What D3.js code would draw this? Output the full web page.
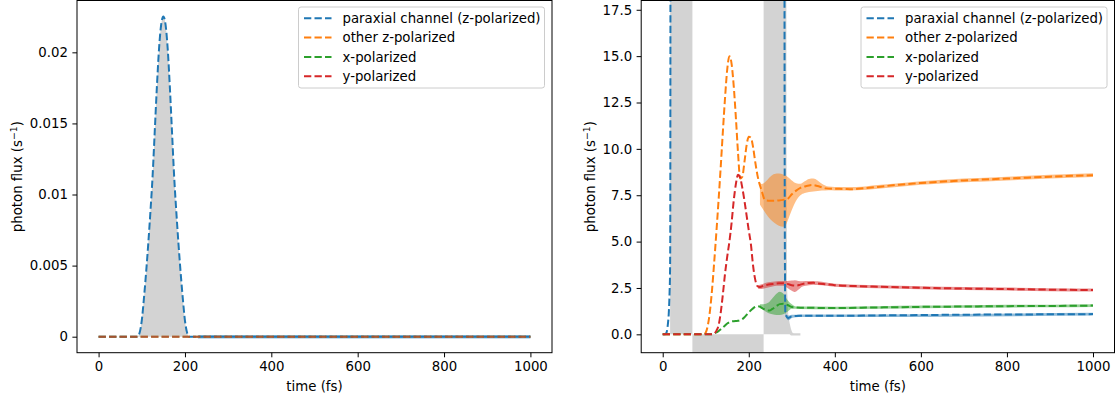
<!DOCTYPE html>
<html>
<head>
<meta charset="utf-8">
<script src="https://cdn.jsdelivr.net/npm/d3@7"></script>
<style>
  body { margin: 0; background: #fff; }
  svg { display: block; }
  text { font-family: "DejaVu Sans", sans-serif; fill: #000; }
</style>
</head>
<body>
<svg id="chart" width="1115" height="400"></svg>
<script>
// ---------- series meta ----------
const seriesNames = ["paraxial channel (z-polarized)", "other z-polarized", "x-polarized", "y-polarized"];
const seriesColors = ["#1f77b4", "#ff7f0e", "#2ca02c", "#d62728"];

// ---------- ticks ----------
const xTicks = [0, 200, 400, 600, 800, 1000];
const leftYTicks = [0, 0.005, 0.01, 0.015, 0.02];
const leftYTickLabels = ["0", "0.005", "0.01", "0.015", "0.02"];
const rightYTicks = [0, 2.5, 5, 7.5, 10, 12.5, 15, 17.5];
const rightYTickLabels = ["0.0", "2.5", "5.0", "7.5", "10.0", "12.5", "15.0", "17.5"];

// ---------- left panel: incident-channel flux ----------
const leftT = [0, 85, 90, 95, 100, 105, 110, 115, 120, 125, 130, 135, 140, 145, 150,
               155, 160, 165, 170, 175, 180, 185, 190, 195, 200, 205, 210, 215, 1000];
const leftParaxial = [0, 0, 0, 0.00027, 0.00113, 0.0027, 0.0045, 0.00653, 0.00878, 0.01126,
                      0.01441, 0.01757, 0.02027, 0.02196, 0.02252, 0.02196, 0.02027, 0.01757,
                      0.01441, 0.01126, 0.00878, 0.00653, 0.0045, 0.0027, 0.00113, 0.00027, 0, 0, 0];
const leftZeroT = [0, 1000];
const leftOtherZ = [0, 0];
const leftX = [0, 0];
const leftY = [0, 0];
const leftParaxBandT = [230, 1000];
const leftParaxBandLo = [-0.00012, -0.00012];
const leftParaxBandHi = [0.00012, 0.00012];

// ---------- right panel: scattered-channel flux ----------
const refT  = [0, 17.2, 17.4, 69, 69.01, 234.5, 234.51, 287, 287.5, 289, 292, 295, 298, 301, 304, 320];
const refLo = [0, 0, 0, 0, -5, -5, 0, 0, 0, 0, 0, 0, -0.06, -0.06, -0.06, -0.06];
const refHi = [0, 0, 1000, 1000, 0, 0, 1000, 1000, 12, 2.5, 1.0, 0.6, 0.3, 0.1, 0.06, 0.06];

const paraxT = [0, 5, 8, 10, 12, 14, 15, 16, 17, 17.5, 18, 19, 30, 150, 270, 282, 283, 284, 285,
                288, 292, 296, 300, 310, 320, 350, 400, 500, 600, 700, 800, 900, 1000];
const paraxV = [0, 0, 0.05, 0.2, 0.55, 1.1, 1.6, 2.3, 3.3, 5, 20, 100, 1000, 1000, 1000, 100, 20, 4, 1.2,
                0.95, 0.88, 0.93, 0.97, 0.99, 1.0, 1.0, 1.0, 1.02, 1.04, 1.06, 1.07, 1.08, 1.09];
const paraxBandT  = [285, 288, 292, 296, 300, 310, 320, 400, 1000];
const paraxBandLo = [1.15, 0.85, 0.76, 0.8, 0.88, 0.92, 0.93, 0.93, 1.02];
const paraxBandHi = [1.3, 1.05, 1.02, 1.03, 1.05, 1.06, 1.07, 1.07, 1.16];

const otherZT = [0, 50, 95, 100, 105, 110, 115, 120, 125, 130, 135, 140, 145, 150, 155, 160, 165, 170,
                 175, 180, 185, 190, 195, 200, 205, 210, 215, 220, 225, 230, 235, 240, 250, 260, 270,
                 280, 290, 300, 310, 320, 330, 340, 350, 360, 370, 380, 400, 420, 440, 460, 500, 550,
                 600, 700, 800, 900, 1000];
const otherZV = [0, 0, 0, 0.1, 0.5, 1.3, 2.5, 4.0, 5.6, 7.3, 9.1, 11.0, 12.8, 14.3, 15.0, 14.6, 13.4, 11.7,
                 9.8, 8.4, 8.5, 9.3, 10.2, 10.65, 10.6, 10.1, 9.3, 8.6, 8.1, 7.75, 7.35, 7.22, 7.2, 7.2, 7.22,
                 7.25, 7.3, 7.55, 7.75, 7.9, 7.97, 8.03, 8.05, 8.0, 7.93, 7.87, 7.85, 7.84, 7.82, 7.86, 7.95, 8.07,
                 8.16, 8.3, 8.4, 8.5, 8.58];
const otherZBandT  = [226, 230, 240, 250, 260, 270, 280, 285, 290, 300, 310, 320, 330, 340, 350, 360,
                      370, 385, 400, 450, 500, 600, 700, 800, 900, 1000];
const otherZBandLo = [7.0, 6.85, 6.5, 6.2, 6.0, 5.85, 5.8, 5.85, 6.1, 6.7, 7.2, 7.5, 7.62, 7.68, 7.7, 7.73,
                      7.75, 7.77, 7.76, 7.77, 7.85, 8.06, 8.2, 8.3, 8.4, 8.48];
const otherZBandHi = [8.2, 8.1, 8.25, 8.5, 8.65, 8.67, 8.62, 8.58, 8.5, 8.3, 8.15, 8.12, 8.25, 8.38, 8.4, 8.3,
                      8.12, 7.97, 7.95, 7.95, 8.05, 8.26, 8.4, 8.5, 8.6, 8.68];

const xPolT = [0, 110, 115, 120, 125, 130, 135, 140, 145, 150, 155, 160, 165, 170, 175, 180, 185, 190,
               195, 200, 205, 210, 215, 220, 225, 230, 240, 248, 255, 265, 272, 280, 290, 300, 310, 320,
               400, 500, 600, 700, 800, 900, 1000];
const xPolV = [0, 0, 0.01, 0.05, 0.1, 0.18, 0.28, 0.38, 0.48, 0.58, 0.66, 0.7, 0.71, 0.72, 0.73, 0.76, 0.82, 0.92,
               1.05, 1.18, 1.3, 1.4, 1.48, 1.52, 1.5, 1.43, 1.32, 1.28, 1.37, 1.54, 1.63, 1.65, 1.58, 1.47, 1.45, 1.44,
               1.42, 1.45, 1.48, 1.5, 1.52, 1.53, 1.55];
const xPolBandT  = [226, 235, 245, 255, 265, 272, 280, 290, 300, 310, 320, 400, 500, 600, 700, 800, 900, 1000];
const xPolBandLo = [1.4, 1.3, 1.15, 1.08, 1.04, 1.04, 1.08, 1.22, 1.38, 1.38, 1.37, 1.35, 1.38, 1.41, 1.43, 1.45, 1.46, 1.48];
const xPolBandHi = [1.62, 1.62, 1.7, 1.95, 2.2, 2.3, 2.2, 1.85, 1.62, 1.5, 1.5, 1.49, 1.52, 1.55, 1.57, 1.59, 1.6, 1.62];

const yPolT = [0, 115, 120, 125, 130, 135, 140, 145, 150, 155, 160, 165, 170, 175, 180, 185, 190, 195, 200,
               205, 210, 215, 220, 225, 230, 240, 250, 260, 270, 280, 290, 300, 310, 320, 330, 340, 350, 360,
               380, 400, 450, 500, 600, 700, 800, 900, 1000];
const yPolV = [0, 0, 0.05, 0.2, 0.5, 1.2, 2.2, 3.3, 4.2, 5.0, 6.0, 7.2, 8.1, 8.6, 8.45, 7.9, 7.2, 6.4, 5.6,
               4.85, 3.7, 2.95, 2.6, 2.55, 2.58, 2.65, 2.7, 2.72, 2.75, 2.76, 2.72, 2.65, 2.63, 2.68, 2.74, 2.77, 2.78, 2.75,
               2.7, 2.65, 2.6, 2.57, 2.51, 2.47, 2.44, 2.41, 2.39];
const yPolBandT  = [222, 230, 240, 250, 260, 270, 280, 290, 300, 307, 315, 325, 340, 350, 360, 380, 400,
                    500, 600, 700, 800, 900, 1000];
const yPolBandLo = [2.45, 2.45, 2.5, 2.55, 2.6, 2.62, 2.62, 2.5, 2.35, 2.28, 2.4, 2.58, 2.65, 2.68, 2.66, 2.62, 2.57,
                    2.49, 2.43, 2.39, 2.36, 2.33, 2.31];
const yPolBandHi = [2.65, 2.7, 2.78, 2.82, 2.85, 2.87, 2.88, 2.88, 2.9, 2.92, 2.88, 2.86, 2.87, 2.88, 2.86, 2.79, 2.73,
                    2.65, 2.59, 2.55, 2.52, 2.49, 2.47];

// ---------- helpers ----------
const zip = (a, b) => a.map((v, i) => [v, b[i]]);
const zip3 = (a, b, c) => a.map((v, i) => [v, b[i], c[i]]);

const svg = d3.select("#chart");
const FONT = 13.3;
const DASH = "7.3,3.2";

function drawPanel(cfg) {
  const g = svg.append("g");
  const x = d3.scaleLinear().domain([-50, 1050]).range([cfg.left, cfg.right]);
  const y = d3.scaleLinear().domain(cfg.yDomain).range([cfg.bottom, cfg.top]);

  const clipId = "clip-" + cfg.id;
  svg.append("defs").append("clipPath").attr("id", clipId)
    .append("rect").attr("x", cfg.left).attr("y", cfg.top)
    .attr("width", cfg.right - cfg.left).attr("height", cfg.bottom - cfg.top);

  const plot = g.append("g").attr("clip-path", `url(#${clipId})`);

  // reference pulse envelope
  const refArea = d3.area().x(d => x(d[0])).y0(d => y(d[1])).y1(d => y(d[2])).curve(cfg.refCurve);
  plot.append("path").datum(cfg.ref).attr("d", refArea).attr("fill", "#d3d3d3");

  const band = d3.area().x(d => x(d[0])).y0(d => y(d[1])).y1(d => y(d[2])).curve(d3.curveMonotoneX);
  const line = d3.line().x(d => x(d[0])).y(d => y(d[1])).curve(d3.curveMonotoneX);

  cfg.series.forEach((s, i) => {
    if (s.band) {
      plot.append("path").datum(s.band).attr("d", band)
        .attr("fill", seriesColors[i]).attr("fill-opacity", 0.5);
    }
  });
  cfg.series.forEach((s, i) => {
    plot.append("path").datum(s.line).attr("d", line)
      .attr("fill", "none").attr("stroke", seriesColors[i])
      .attr("stroke-width", 2).attr("stroke-dasharray", DASH)
      .attr("stroke-opacity", i === 0 ? 1 : cfg.lineOpacity);
  });

  // axes
  const xAxis = d3.axisBottom(x).tickValues(xTicks).tickSize(4.6).tickPadding(4.5).tickFormat(d3.format("d"));
  const gx = g.append("g").attr("transform", `translate(0,${cfg.bottom})`).call(xAxis);
  const yAxis = d3.axisLeft(y).tickValues(cfg.yTicks).tickSize(4.6).tickPadding(4.5)
    .tickFormat((d, i) => cfg.yTickLabels[i]);
  const gy = g.append("g").attr("transform", `translate(${cfg.left},0)`).call(yAxis);
  [gx, gy].forEach(a => {
    a.select(".domain").remove();
    a.selectAll("line").attr("stroke", "#000").attr("stroke-width", 1);
    a.selectAll("text").attr("font-size", FONT).attr("font-family", "DejaVu Sans, sans-serif").attr("fill", "#000");
  });

  // frame
  g.append("rect").attr("x", cfg.left).attr("y", cfg.top)
    .attr("width", cfg.right - cfg.left).attr("height", cfg.bottom - cfg.top)
    .attr("fill", "none").attr("stroke", "#000").attr("stroke-width", 1);

  // axis labels
  g.append("text").attr("x", (cfg.left + cfg.right) / 2).attr("y", 391)
    .attr("text-anchor", "middle").attr("font-size", FONT).text("time (fs)");
  const yl = g.append("text")
    .attr("transform", `translate(${cfg.yLabelX},${(cfg.top + cfg.bottom) / 2}) rotate(-90)`)
    .attr("text-anchor", "middle").attr("font-size", FONT);
  yl.append("tspan").text("photon flux (s");
  yl.append("tspan").attr("font-size", 9.4).attr("dy", -5.2).text("\u22121");
  yl.append("tspan").attr("dy", 5.2).text(")");

  // legend
  const lg = g.append("g").attr("transform", `translate(${cfg.right - 253.5},7)`);
  lg.append("rect").attr("x", 0).attr("y", 0).attr("width", 246).attr("height", 81)
    .attr("rx", 2.5).attr("fill", "#fff").attr("fill-opacity", 0.8)
    .attr("stroke", "#cccccc").attr("stroke-width", 1);
  seriesNames.forEach((name, i) => {
    const cy = 11.3 + i * 19.3;
    lg.append("line").attr("x1", 5.5).attr("x2", 33).attr("y1", cy).attr("y2", cy)
      .attr("stroke", seriesColors[i]).attr("stroke-width", 2).attr("stroke-dasharray", DASH);
    lg.append("text").attr("x", 44).attr("y", cy + 4.8).attr("font-size", FONT).text(name);
  });
}

drawPanel({
  id: "left", left: 77, right: 552, top: 0.5, bottom: 352.7,
  yDomain: [-0.001126, 0.023646], yTicks: leftYTicks, yTickLabels: leftYTickLabels,
  yLabelX: 22, lineOpacity: 0.6,
  ref: zip3(leftT, leftT.map(() => 0), leftParaxial), refCurve: d3.curveMonotoneX,
  series: [
    { line: zip(leftT, leftParaxial), band: zip3(leftParaxBandT, leftParaxBandLo, leftParaxBandHi) },
    { line: zip(leftZeroT, leftOtherZ) },
    { line: zip(leftZeroT, leftX) },
    { line: zip(leftZeroT, leftY) }
  ]
});

drawPanel({
  id: "right", left: 641.2, right: 1114.5, top: 0.5, bottom: 352.7,
  yDomain: [-0.99, 18.0], yTicks: rightYTicks, yTickLabels: rightYTickLabels,
  yLabelX: 595, lineOpacity: 1,
  ref: zip3(refT, refLo, refHi), refCurve: d3.curveLinear,
  series: [
    { line: zip(paraxT, paraxV), band: zip3(paraxBandT, paraxBandLo, paraxBandHi) },
    { line: zip(otherZT, otherZV), band: zip3(otherZBandT, otherZBandLo, otherZBandHi) },
    { line: zip(xPolT, xPolV), band: zip3(xPolBandT, xPolBandLo, xPolBandHi) },
    { line: zip(yPolT, yPolV), band: zip3(yPolBandT, yPolBandLo, yPolBandHi) }
  ]
});
</script>
</body>
</html>
